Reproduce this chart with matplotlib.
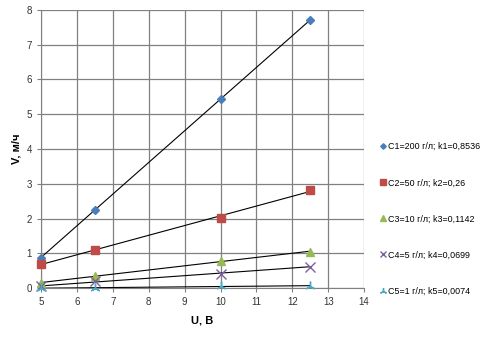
import numpy as np
import matplotlib
matplotlib.use("Agg")
from matplotlib import pyplot as plt

plt.rcParams['font.family'] = ['Liberation Sans', 'DejaVu Sans']

u = [5, 6.5, 10, 12.5]
c1 = [0.88, 2.25, 5.45, 7.70]
c2 = [0.70, 1.10, 2.02, 2.82]
c3 = [0.15, 0.35, 0.78, 1.05]
c4 = [0.05, 0.20, 0.42, 0.62]
c5 = [0.00, 0.01, 0.05, 0.07]
labels = ['C1=200 г/л; k1=0,8536', 'C2=50 г/л; k2=0,26', 'C3=10 г/л; k3=0,1142',
          'C4=5 г/л; k4=0,0699', 'C5=1 г/л; k5=0,0074']

series = [c1, c2, c3, c4, c5]
colors = ['#4a7ebb', '#be4b48', '#98b954', '#7d60a0', '#46aac5']
markers = ['D', 's', '^', 'x', (3, 2, 0)]
msizes = [4, 6, 6, 7, 7]

fig = plt.figure(figsize=(4.9, 3.39), dpi=100)
ax = fig.add_axes([0.084, 0.150, 0.659, 0.821])

xs = np.array([5, 12.5])
for vals, col, m, ms, lab in zip(series, colors, markers, msizes, labels):
    # linear trendline
    k, b = np.polyfit(u, vals, 1)
    ax.plot(xs, k * xs + b, color='black', lw=0.8, zorder=2)
    ax.plot(u, vals, ls='none', marker=m, color=col, ms=ms, mew=1.0, label=lab,
            zorder=3, clip_on=False)

ax.set_xlim(5, 14)
ax.set_ylim(0, 8)
ax.set_xticks(range(5, 15))
ax.set_yticks(range(0, 9))
ax.grid(True, color='#808080', lw=0.9)
ax.set_axisbelow(True)
for s in ['top', 'right']:
    ax.spines[s].set_visible(False)
for s in ['left', 'bottom']:
    ax.spines[s].set_color('#808080')
ax.tick_params(labelsize=7, colors='#333333', length=3, color='#808080')

ax.set_xlabel('U, В', fontsize=8, fontweight='bold', labelpad=6)
ax.set_ylabel('V, м/ч', fontsize=8, fontweight='bold', labelpad=4)

fig.legend(loc='upper left', bbox_to_anchor=(0.768, 0.591), frameon=False, fontsize=6.4,
           labelspacing=3.05, handlelength=0.7, handletextpad=0.2, markerscale=0.7,
           borderaxespad=0)

fig.savefig('out.png', dpi=100)
